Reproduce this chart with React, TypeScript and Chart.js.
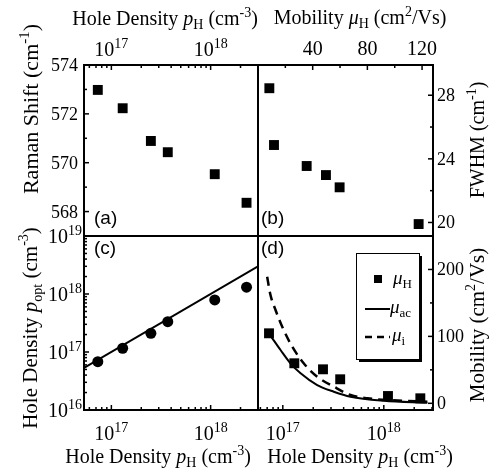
import React, { useEffect, useRef } from 'react';
import { Chart, registerables } from 'chart.js';

Chart.register(...registerables);

const W = 493;
const H = 472;
const SERIF = '"Liberation Serif", "Times New Roman", serif';
const SANS = '"Liberation Sans", Arial, sans-serif';

// ---------------- data ----------------
const holeDensityPH = [7.3e16, 1.3e17, 2.5e17, 3.7e17, 1.1e18, 2.3e18];
const ramanShift = [572.98, 572.23, 570.89, 570.43, 569.53, 568.36];
const mobilityB = [8.3, 11.7, 35.6, 49.7, 59.7, 117.5];
const fwhm = [28.44, 24.87, 23.55, 22.98, 22.21, 19.9];
const holeDensityPOpt = [6.8e16, 1.16e17, 2.1e17, 3.33e17, 7.9e17, 1.31e18];
const fitLinePH = [5.3e16, 3e18];
const fitLinePOpt = [5.3e16, 3e18];
const mobilityH = [104.6, 59.8, 50.8, 35.9, 10.9, 7.5];
const muAcPH = [7.26e16, 9.5e16, 1.19e17, 1.5e17, 2.19e17, 3.2e17, 4.68e17, 1e18, 2.7e18];
const muAc = [104.6, 79.6, 59.8, 44.9, 27.3, 17.3, 9.9, 3.9, 0.9];
const muIPH = [7.0e16, 7.55e16, 8.47e16, 1.02e17, 1.24e17, 1.61e17, 2.19e17, 3.2e17, 4.68e17, 6.9e17, 2.7e18];
const muI = [189, 161.8, 139.4, 109.5, 84.6, 59.8, 39.8, 24.9, 12.4, 7.5, 2.4];

// ---------------- ticks ----------------
const ramanTicks = [568, 570, 572, 574];
const ramanMinorTicks = [569, 571, 573];
const fwhmTicks = [20, 24, 28];
const fwhmMinorTicks = [22, 26];
const mobilityTopTicks = [40, 80, 120];
const mobilityTopMinorTicks = [20, 60, 100];
const mobilityRightTicks = [0, 100, 200];
const mobilityRightMinorTicks = [50, 150];
const densityExponentsX = [17, 18];
const densityExponentsY = [16, 17, 18, 19];

// ---------------- helpers ----------------
type Seg = [string, string];

function fontFor(kind: string, size: number) {
  const small = Math.round(size * 0.68);
  switch (kind) {
    case 'i':
      return { font: `italic ${size}px ${SERIF}`, dy: 0 };
    case 'b':
      return { font: `${small}px ${SERIF}`, dy: size * 0.22 };
    case 'p':
      return { font: `${small}px ${SERIF}`, dy: -size * 0.42 };
    case 'S':
      return { font: `${size}px ${SANS}`, dy: 0 };
    default:
      return { font: `${size}px ${SERIF}`, dy: 0 };
  }
}

function drawRich(
  ctx: CanvasRenderingContext2D,
  segs: Seg[],
  x: number,
  y: number,
  size: number,
  align: 'left' | 'center' | 'right',
  rotated = false
) {
  ctx.save();
  ctx.translate(x, y);
  if (rotated) ctx.rotate(-Math.PI / 2);
  ctx.textBaseline = 'alphabetic';
  ctx.textAlign = 'left';
  ctx.fillStyle = '#000';
  const parts = segs.map(([t, k]) => {
    const f = fontFor(k, size);
    ctx.font = f.font;
    return { t, f, w: ctx.measureText(t).width };
  });
  const total = parts.reduce((s, p) => s + p.w, 0);
  let cx = align === 'center' ? -total / 2 : align === 'right' ? -total : 0;
  for (const p of parts) {
    ctx.font = p.f.font;
    ctx.fillText(p.t, cx, p.f.dy);
    cx += p.w;
  }
  ctx.restore();
}

function logMinor(min: number, max: number) {
  const out: number[] = [];
  for (let e = Math.floor(Math.log10(min)); e <= Math.ceil(Math.log10(max)); e++) {
    for (let m = 2; m <= 9; m++) {
      const v = m * Math.pow(10, e);
      if (v >= min && v <= max) out.push(v);
    }
  }
  return out;
}

const powLabel = (e: number): Seg[] => [['10', 'n'], [String(e), 'p']];
const numLabel = (v: number): Seg[] => [[String(v), 'n']];

interface SideDeco {
  side: 'top' | 'bottom' | 'left' | 'right';
  major: number[];
  minor: number[];
  labels?: Seg[][];
  size: number;
  gap: number;
  dy?: number;
}

interface TextDeco {
  segs: Seg[];
  x: number;
  y: number;
  size: number;
  align: 'left' | 'center' | 'right';
  rotated?: boolean;
}

interface Panel {
  rect: { left: number; top: number; right: number; bottom: number };
  x: any;
  y: any;
  datasets: any[];
  sides: SideDeco[];
  texts: TextDeco[];
  legend?: boolean;
}

const xRangeC = { min: 5.3e16, max: 3e18 };
const xRangeD = { min: 5.68e16, max: 3.07e18 };

const pts = (xs: number[], ys: number[]) => xs.map((x, i) => ({ x, y: ys[i] }));

const PANELS: Panel[] = [
  // (a)
  {
    rect: { left: 84, top: 65, right: 258, bottom: 236 },
    x: { type: 'logarithmic', ...xRangeC },
    y: { type: 'linear', min: 567, max: 574 },
    datasets: [
      {
        data: pts(holeDensityPH, ramanShift),
        pointStyle: 'rect',
        pointRadius: 7,
        backgroundColor: '#000',
        borderColor: '#000',
        borderWidth: 0,
      },
    ],
    sides: [
      {
        side: 'top',
        major: densityExponentsX.map((e) => Math.pow(10, e)),
        minor: logMinor(xRangeC.min, xRangeC.max),
        labels: densityExponentsX.map(powLabel),
        size: 20,
        gap: 9,
      },
      {
        side: 'left',
        major: ramanTicks,
        minor: ramanMinorTicks,
        labels: ramanTicks.map(numLabel),
        size: 18,
        gap: 6,
        dy: 6,
      },
    ],
    texts: [
      {
        segs: [['Hole Density ', 'n'], ['p', 'i'], ['H', 'b'], [' (cm', 'n'], ['-3', 'p'], [')', 'n']],
        x: 165,
        y: 25,
        size: 20,
        align: 'center',
      },
      {
        segs: [['Raman Shift (cm', 'n'], ['-1', 'p'], [')', 'n']],
        x: 38,
        y: 109,
        size: 22,
        align: 'center',
        rotated: true,
      },
      { segs: [['(a)', 'S']], x: 94, y: 224, size: 19, align: 'left' },
    ],
  },
  // (b)
  {
    rect: { left: 258, top: 65, right: 433, bottom: 236 },
    x: { type: 'linear', min: 0, max: 128 },
    y: { type: 'linear', min: 19.15, max: 29.9 },
    datasets: [
      {
        data: pts(mobilityB, fwhm),
        pointStyle: 'rect',
        pointRadius: 7,
        backgroundColor: '#000',
        borderColor: '#000',
        borderWidth: 0,
      },
    ],
    sides: [
      {
        side: 'top',
        major: mobilityTopTicks,
        minor: mobilityTopMinorTicks,
        labels: mobilityTopTicks.map(numLabel),
        size: 20,
        gap: 10,
      },
      {
        side: 'right',
        major: fwhmTicks,
        minor: fwhmMinorTicks,
        labels: fwhmTicks.map(numLabel),
        size: 18,
        gap: 4,
        dy: 6,
      },
    ],
    texts: [
      {
        segs: [['Mobility ', 'n'], ['μ', 'i'], ['H', 'b'], [' (cm', 'n'], ['2', 'p'], ['/Vs)', 'n']],
        x: 360,
        y: 24,
        size: 20,
        align: 'center',
      },
      {
        segs: [['FWHM (cm', 'n'], ['-1', 'p'], [')', 'n']],
        x: 484,
        y: 140,
        size: 20,
        align: 'center',
        rotated: true,
      },
      { segs: [['(b)', 'S']], x: 261, y: 224, size: 19, align: 'left' },
    ],
  },
  // (c)
  {
    rect: { left: 84, top: 236, right: 258, bottom: 410 },
    x: { type: 'logarithmic', ...xRangeC },
    y: { type: 'logarithmic', min: 1e16, max: 1e19 },
    datasets: [
      {
        data: pts(fitLinePH, fitLinePOpt),
        showLine: true,
        pointRadius: 0,
        borderColor: '#000',
        borderWidth: 2,
      },
      {
        data: pts(holeDensityPH, holeDensityPOpt),
        pointStyle: 'circle',
        pointRadius: 5.5,
        backgroundColor: '#000',
        borderColor: '#000',
        borderWidth: 0,
      },
    ],
    sides: [
      {
        side: 'bottom',
        major: densityExponentsX.map((e) => Math.pow(10, e)),
        minor: logMinor(xRangeC.min, xRangeC.max),
        labels: densityExponentsX.map(powLabel),
        size: 20,
        gap: 30,
      },
      {
        side: 'left',
        major: densityExponentsY.map((e) => Math.pow(10, e)),
        minor: logMinor(1e16, 1e19),
        labels: densityExponentsY.map(powLabel),
        size: 20,
        gap: 2,
        dy: 7,
      },
    ],
    texts: [
      {
        segs: [['Hole Density ', 'n'], ['p', 'i'], ['H', 'b'], [' (cm', 'n'], ['-3', 'p'], [')', 'n']],
        x: 158,
        y: 463,
        size: 20,
        align: 'center',
      },
      {
        segs: [['Hole Density ', 'n'], ['p', 'i'], ['opt', 'b'], [' (cm', 'n'], ['-3', 'p'], [')', 'n']],
        x: 37,
        y: 328,
        size: 21,
        align: 'center',
        rotated: true,
      },
      { segs: [['(c)', 'S']], x: 94, y: 254, size: 19, align: 'left' },
    ],
  },
  // (d)
  {
    rect: { left: 258, top: 236, right: 433, bottom: 410 },
    x: { type: 'logarithmic', ...xRangeD },
    y: { type: 'linear', min: -10, max: 250 },
    datasets: [
      {
        data: pts(muAcPH, muAc),
        showLine: true,
        pointRadius: 0,
        borderColor: '#000',
        borderWidth: 2,
        cubicInterpolationMode: 'monotone',
      },
      {
        data: pts(muIPH, muI),
        showLine: true,
        pointRadius: 0,
        borderColor: '#000',
        borderWidth: 2.5,
        borderDash: [9, 6],
        cubicInterpolationMode: 'monotone',
      },
      {
        data: pts(holeDensityPH, mobilityH),
        pointStyle: 'rect',
        pointRadius: 7,
        backgroundColor: '#000',
        borderColor: '#000',
        borderWidth: 0,
      },
    ],
    sides: [
      {
        side: 'bottom',
        major: densityExponentsX.map((e) => Math.pow(10, e)),
        minor: logMinor(xRangeD.min, xRangeD.max),
        labels: densityExponentsX.map(powLabel),
        size: 20,
        gap: 30,
      },
      {
        side: 'right',
        major: mobilityRightTicks,
        minor: mobilityRightMinorTicks,
        labels: mobilityRightTicks.map(numLabel),
        size: 18,
        gap: 4,
        dy: 6,
      },
    ],
    texts: [
      {
        segs: [['Hole Density ', 'n'], ['p', 'i'], ['H', 'b'], [' (cm', 'n'], ['-3', 'p'], [')', 'n']],
        x: 360,
        y: 463,
        size: 20,
        align: 'center',
      },
      {
        segs: [['Mobility (cm', 'n'], ['2', 'p'], ['/Vs)', 'n']],
        x: 484,
        y: 325,
        size: 21,
        align: 'center',
        rotated: true,
      },
      { segs: [['(d)', 'S']], x: 261, y: 254, size: 19, align: 'left' },
    ],
    legend: true,
  },
];

function decoPlugin(panel: Panel) {
  return {
    id: 'deco',
    afterDatasetsDraw(chart: any) {
      const ctx: CanvasRenderingContext2D = chart.ctx;
      const a = chart.chartArea;
      const xs = chart.scales.x;
      const ys = chart.scales.y;
      ctx.save();
      ctx.strokeStyle = '#000';
      ctx.fillStyle = '#000';

      // frame
      ctx.lineWidth = 2;
      ctx.strokeRect(a.left, a.top, a.right - a.left, a.bottom - a.top);

      // ticks
      ctx.lineWidth = 1.5;
      for (const s of panel.sides) {
        const horiz = s.side === 'top' || s.side === 'bottom';
        const sc = horiz ? xs : ys;
        const drawTick = (v: number, len: number) => {
          const p = sc.getPixelForValue(v);
          if (horiz && (p < a.left - 0.5 || p > a.right + 0.5)) return;
          if (!horiz && (p < a.top - 0.5 || p > a.bottom + 0.5)) return;
          ctx.beginPath();
          if (s.side === 'top') {
            ctx.moveTo(p, a.top);
            ctx.lineTo(p, a.top + len);
          } else if (s.side === 'bottom') {
            ctx.moveTo(p, a.bottom);
            ctx.lineTo(p, a.bottom - len);
          } else if (s.side === 'left') {
            ctx.moveTo(a.left, p);
            ctx.lineTo(a.left + len, p);
          } else {
            ctx.moveTo(a.right, p);
            ctx.lineTo(a.right - len, p);
          }
          ctx.stroke();
        };
        s.minor.forEach((v) => drawTick(v, 3));
        s.major.forEach((v) => drawTick(v, 5));
        if (s.labels) {
          s.major.forEach((v, i) => {
            const p = sc.getPixelForValue(v);
            const lab = s.labels![i];
            if (s.side === 'top') drawRich(ctx, lab, p, a.top - s.gap, s.size, 'center');
            else if (s.side === 'bottom') drawRich(ctx, lab, p, a.bottom + s.gap, s.size, 'center');
            else if (s.side === 'left') drawRich(ctx, lab, a.left - s.gap, p + (s.dy || 0), s.size, 'right');
            else drawRich(ctx, lab, a.right + s.gap, p + (s.dy || 0), s.size, 'left');
          });
        }
      }

      // texts
      for (const t of panel.texts) drawRich(ctx, t.segs, t.x, t.y, t.size, t.align, t.rotated);

      // legend
      if (panel.legend) {
        const bx = 356, by = 253, bw = 64, bh = 107;
        ctx.fillStyle = '#fff';
        ctx.fillRect(bx, by, bw, bh);
        ctx.lineWidth = 1;
        ctx.strokeStyle = '#000';
        ctx.strokeRect(bx + 0.5, by + 0.5, bw - 1, bh - 1);
        ctx.lineWidth = 2;
        ctx.beginPath();
        ctx.moveTo(bx + bw + 1, by + 3);
        ctx.lineTo(bx + bw + 1, by + bh + 1);
        ctx.lineTo(bx + 3, by + bh + 1);
        ctx.stroke();
        ctx.fillStyle = '#000';
        ctx.fillRect(374, 275, 8, 8);
        drawRich(ctx, [['μ', 'i'], ['H', 'b']], 393, 284, 19, 'left');
        ctx.lineWidth = 2;
        ctx.beginPath();
        ctx.moveTo(365, 309);
        ctx.lineTo(390, 309);
        ctx.stroke();
        drawRich(ctx, [['μ', 'i'], ['ac', 'b']], 390, 313, 19, 'left');
        ctx.lineWidth = 2.5;
        ctx.setLineDash([7, 5]);
        ctx.beginPath();
        ctx.moveTo(365, 337);
        ctx.lineTo(390, 337);
        ctx.stroke();
        ctx.setLineDash([]);
        drawRich(ctx, [['μ', 'i'], ['i', 'b']], 392, 341, 19, 'left');
      }
      ctx.restore();
    },
  };
}

function makeChart(canvas: HTMLCanvasElement, panel: Panel) {
  const r = panel.rect;
  return new Chart(canvas, {
    type: 'scatter',
    data: { datasets: panel.datasets },
    options: {
      responsive: false,
      animation: false,
      events: [],
      layout: { padding: { left: r.left, top: r.top, right: W - r.right, bottom: H - r.bottom } },
      scales: {
        x: { ...panel.x, display: false },
        y: { ...panel.y, display: false },
      },
      plugins: { legend: { display: false }, tooltip: { enabled: false } },
    } as any,
    plugins: [decoPlugin(panel) as any],
  });
}

export default function App() {
  const refs = useRef<(HTMLCanvasElement | null)[]>([]);
  useEffect(() => {
    const charts = PANELS.map((p, i) => makeChart(refs.current[i]!, p));
    return () => charts.forEach((c) => c.destroy());
  }, []);
  return (
    <div style={{ position: 'absolute', left: 0, top: 0, width: W, height: H, background: '#fff' }}>
      {PANELS.map((_, i) => (
        <canvas
          key={i}
          ref={(el) => {
            refs.current[i] = el;
          }}
          width={W}
          height={H}
          style={{ position: 'absolute', left: 0, top: 0, width: W, height: H }}
        />
      ))}
    </div>
  );
}
